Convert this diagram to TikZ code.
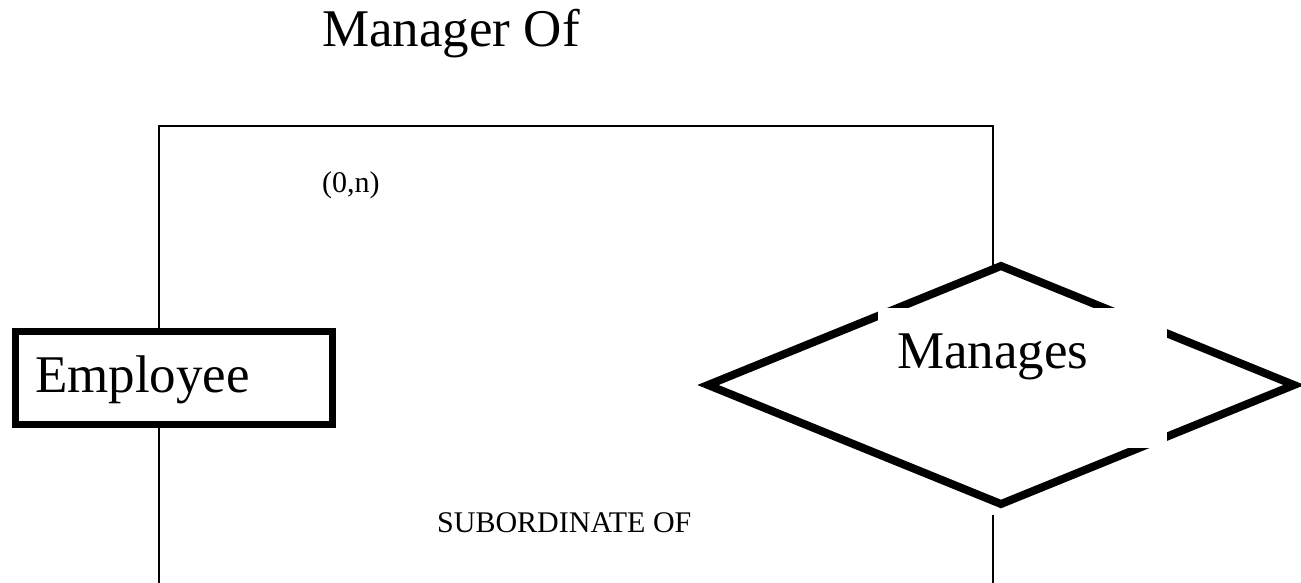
\documentclass[tikz,border=0pt]{standalone}
\usepackage{fontspec}
\setmainfont{Liberation Serif}
\usetikzlibrary{shapes.geometric}

\begin{document}
\begin{tikzpicture}[
  x=1pt, y=-1pt,
  big/.style={font=\fontsize{53pt}{60pt}\selectfont},
  small/.style={font=\fontsize{30pt}{36pt}\selectfont},
  lbl/.style={inner sep=0pt, anchor=base west},
  entity/.style={draw, rectangle, line width=7pt, outer sep=0pt, minimum width=317pt, minimum height=93pt, text width=278pt, inner xsep=19.5pt, align=left, text height=36pt, text depth=8pt},
  rel/.style={draw, diamond, line width=8pt, outer sep=0pt, inner sep=0pt, minimum width=586pt, minimum height=238pt},
  relname/.style={fill=white, rectangle, outer sep=0pt, text width=251pt, inner xsep=19pt, inner ysep=25pt, align=left, text height=35pt, text depth=55pt},
  link/.style={line width=1.8pt}
]
\useasboundingbox (0,0) rectangle (1301,583);
\node[lbl, big] (title) at (322,47) {Manager Of};
\node[lbl, small] (card) at (322,192) {(0,n)};
\node[lbl, small] (sub) at (437,532) {SUBORDINATE OF};
\node[entity, big] (emp) at (174,378) {Employee};
\node[rel] (man) at (1001,385) {};
\node[relname, big] (mantext) at (1022.5,378) {Manages};
\coordinate (tl) at (159,126);
\coordinate (tr) at (993,126);
\coordinate (bl) at (159,583);
\coordinate (br) at (993,583);
\coordinate (mb) at ([yshift=-11pt]man.south);
\draw[link] (emp.north -| tl) -- (tl) -- (tr) -- (tr |- man.north);
\draw[link] (emp.south -| bl) -- (bl);
\draw[link] (br |- mb) -- (br);
\end{tikzpicture}
\end{document}
